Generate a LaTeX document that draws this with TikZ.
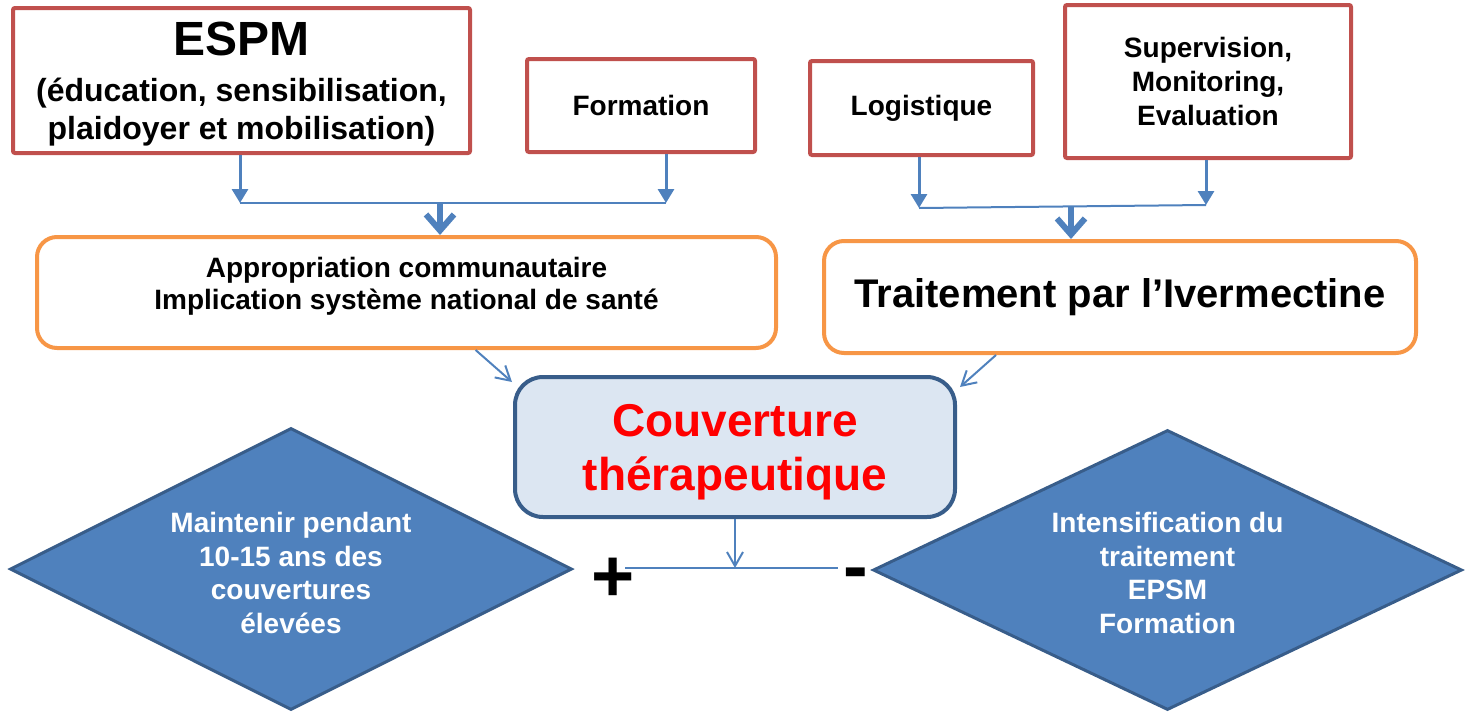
\documentclass[tikz,border=0pt]{standalone}
\usepackage{fontspec}
\setmainfont{Liberation Sans}
\usetikzlibrary{arrows.meta,shapes.geometric,calc}
\definecolor{redb}{HTML}{C0504D}
\definecolor{orangeb}{HTML}{F79646}
\definecolor{blueline}{HTML}{4F81BD}
\definecolor{darkblue}{HTML}{385D8A}
\definecolor{lightfill}{HTML}{DCE6F2}
\definecolor{redtext}{HTML}{FF0000}
\begin{document}
\begin{tikzpicture}[x=0.5pt,y=-0.5pt,
  every node/.style={align=center, inner sep=2pt},
  fs/.style 2 args={font=\bfseries\fontsize{#1}{#2}\selectfont},
  redbox/.style={draw=redb, line width=2pt, fill=white, rounded corners=1pt},
  orbox/.style={draw=orangeb, line width=2pt, fill=white, rounded corners=10pt},
  covbox/.style={draw=darkblue, line width=2pt, fill=lightfill, rounded corners=14pt},
  dia/.style={diamond, draw=darkblue, line width=1.5pt, fill=blueline, inner sep=0pt},
  diatext/.style={fs={14}{16.8}, text=white, inner sep=0pt},
  feedarr/.style={draw=blueline, line width=1.5pt, -{Triangle[width=8pt,length=7pt]}},
  joinline/.style={draw=blueline, line width=1pt},
  bigarr/.style={draw=blueline, line width=3pt, -{Straight Barb[length=8pt,width=14pt]}},
  thinarr/.style={draw=blueline, line width=1pt, -{Straight Barb[length=7pt,width=8pt]}},
  sign/.style={fs={37}{40}, inner sep=0pt}
]
\useasboundingbox (0,0) rectangle (1465,712);

% top boxes
\node[redbox, fs={16}{19}, text depth=-2.6pt, minimum width=228.5pt, minimum height=72.5pt] (espm) at (241.5,80.5)
  {{\fontsize{24}{26}\selectfont ESPM}\\[4pt] (éducation, sensibilisation,\\ plaidoyer et mobilisation)};
\node[redbox, fs={14}{17}, minimum width=114pt, minimum height=46.5pt] (form) at (641,105.5)
  {Formation};
\node[redbox, fs={14}{17}, minimum width=111.5pt, minimum height=47pt] (logi) at (921.5,108)
  {Logistique};
\node[redbox, fs={14}{17}, minimum width=143pt, minimum height=76.5pt] (sup) at (1208,81.5)
  {Supervision,\\ Monitoring,\\ Evaluation};

% middle boxes
\node[orbox, fs={14}{16}, text depth=9pt, minimum width=369.5pt, minimum height=55.5pt] (appr) at (406.5,292.5)
  {Appropriation communautaire\\ Implication système national de santé};
\node[orbox, fs={20}{24}, minimum width=296pt, minimum height=56pt] (trt) at (1120,297)
  {Traitement par l’Ivermectine};

% central box
\node[covbox, fs={23}{27}, text=redtext, text depth=-1.2pt, minimum width=220pt, minimum height=70pt] (cov) at (735,447)
  {Couverture\\ thérapeutique};

% diamonds
\node[dia, minimum width=281pt, minimum height=141pt] (dl) at (291,569) {};
\node[diatext] (dltext) at (291,573)
  {Maintenir pendant\\ 10-15 ans des\\ couvertures\\ élevées};
\node[dia, minimum width=294.5pt, minimum height=140pt] (dr) at (1167.5,570) {};
\node[diatext] (drtext) at (1167.5,573)
  {Intensification du\\ traitement\\ EPSM\\ Formation};

% junction coordinates
\coordinate (j1) at (240,203);
\coordinate (j2) at (666,203);
\coordinate (m1) at (440,203);
\coordinate (j3) at (919,208);
\coordinate (j4) at (1206,205);
\coordinate (m2) at (1071,207);
\coordinate (jb) at (735,568);
\coordinate (pl) at (625,568);
\coordinate (mn) at (838,568);

% top left connectors
\draw[feedarr] (espm.south -| j1) -- (j1);
\draw[feedarr] (form.south -| j2) -- (j2);
\draw[joinline] (j1) -- (j2);
\draw[bigarr] (m1) -- (appr.north -| m1);

% top right connectors
\draw[feedarr] (logi.south -| j3) -- (j3);
\draw[feedarr] (sup.south -| j4) -- (j4);
\draw[joinline] (j3) -- (j4);
\draw[bigarr] (m2) -- (trt.north -| m2);

% to central box
\draw[thinarr] ($(appr.south west)!0.593!(appr.south east)$) -- ([xshift=-0.5pt,yshift=-3.5pt]cov.north west);
\draw[thinarr] ($(trt.south west)!0.292!(trt.south east)$) -- ([xshift=1.5pt,yshift=-6pt]cov.north east);

% bottom
\draw[thinarr] (cov.south) -- (jb);
\draw[joinline] (pl) -- (mn);
\node[sign] (plus) at (613,580) {+};
\node[sign] (minus) at (856,580) {-};
\end{tikzpicture}
\end{document}
